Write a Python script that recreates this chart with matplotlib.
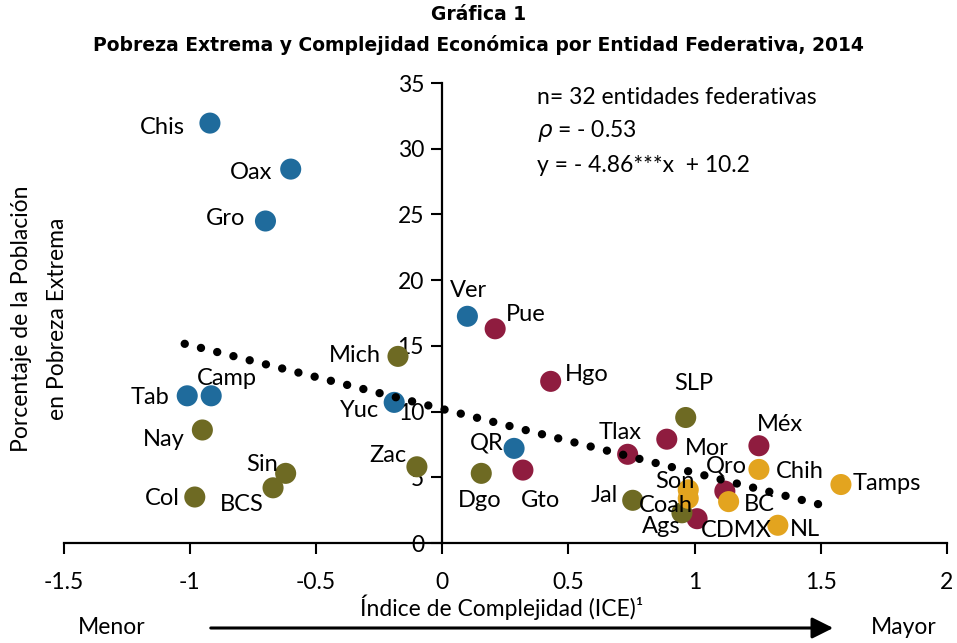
import matplotlib.pyplot as plt
import numpy as np

# Datos por entidad federativa
estados = ['Chis', 'Oax', 'Gro', 'Ver', 'Tab', 'Camp', 'Yuc', 'QR',
           'Pue', 'Hgo', 'Gto', 'Tlax', 'Mor', 'Méx', 'Qro', 'CDMX',
           'Mich', 'Nay', 'Sin', 'BCS', 'Col', 'Zac', 'Dgo', 'SLP', 'Jal', 'Ags',
           'Son', 'Coah', 'BC', 'Chih', 'Tamps', 'NL']
ice = [-0.92, -0.60, -0.70, 0.10, -1.01, -0.915, -0.19, 0.285,
       0.21, 0.43, 0.32, 0.735, 0.89, 1.255, 1.12, 1.01,
       -0.175, -0.95, -0.62, -0.67, -0.98, -0.10, 0.155, 0.965, 0.755, 0.95,
       0.975, 0.975, 1.135, 1.255, 1.58, 1.33]
pobreza = [31.95, 28.45, 24.5, 17.25, 11.2, 11.2, 10.7, 7.2,
           16.3, 12.3, 5.55, 6.75, 7.9, 7.4, 3.95, 1.85,
           14.2, 8.6, 5.3, 4.2, 3.5, 5.8, 5.3, 9.55, 3.25, 2.3,
           4.05, 3.4, 3.15, 5.6, 4.45, 1.35]
grupo = ['sur'] * 8 + ['centro'] * 8 + ['occ'] * 10 + ['norte'] * 6

colores = {'sur': '#1f6b9c', 'centro': '#8f1c3f', 'occ': '#6e6a23', 'norte': '#e3a41f'}

# desplazamiento de etiquetas (pixeles) y alineacion
etiquetas = {
    'Chis': (-25, -4, 'right'), 'Oax': (-18, -3, 'right'), 'Gro': (-20, 3, 'right'),
    'Ver': (1, 26, 'center'), 'Pue': (11, 14, 'left'), 'Hgo': (14, 7, 'left'),
    'Mich': (-17, 1, 'right'), 'Tab': (-18, -2, 'right'), 'Camp': (-14, 17, 'left'),
    'Yuc': (-15, -8, 'right'), 'Nay': (-18, -10, 'right'), 'Sin': (-8, 9, 'right'),
    'BCS': (-9, -17, 'right'), 'Col': (-15, -1, 'right'), 'Zac': (-10, 11, 'right'),
    'QR': (-10, 5, 'right'), 'Dgo': (-2, -27, 'center'), 'Gto': (18, -30, 'center'),
    'SLP': (8, 34, 'center'), 'Tlax': (-8, 22, 'center'), 'Mor': (18, -9, 'left'),
    'Méx': (-2, 21, 'left'), 'Qro': (-19, 25, 'left'), 'Chih': (17, -2, 'left'),
    'Tamps': (12, 1, 'left'), 'Son': (6, 8, 'right'), 'Coah': (-49, -7, 'left'),
    'Jal': (-15, 5, 'right'), 'Ags': (-1, -14, 'right'), 'BC': (15, -3, 'left'),
    'CDMX': (4, -12, 'left'), 'NL': (12, -4, 'left'),
}

pendiente = -4.86
intercepto = 10.2
x_tendencia = [-1.02, 1.52]

plt.rcParams['font.family'] = ['Lato', 'DejaVu Sans']

fig = plt.figure(figsize=(9.57, 6.43), dpi=100)
ax = fig.add_axes([0.0664, 0.1555, 0.9231, 0.7154])

for e, x, y, g in zip(estados, ice, pobreza, grupo):
    ax.scatter(x, y, s=230, color=colores[g], edgecolors='none', zorder=3)
    dx, dy, ha = etiquetas[e]
    ax.annotate(e, (x, y), xytext=(dx, dy), textcoords='offset pixels',
                ha=ha, va='center', fontsize=17, zorder=5)

xt = np.array(x_tendencia)
ax.plot(xt, pendiente * xt + intercepto, color='black', lw=6,
        linestyle=(0, (0.01, 2.0)), dash_capstyle='round', zorder=4)

ax.set_xlim(-1.5, 2)
ax.set_ylim(0, 35)
ax.spines['left'].set_position(('data', 0))
ax.spines['top'].set_visible(False)
ax.spines['right'].set_visible(False)
ax.spines['left'].set_linewidth(1.6)
ax.spines['bottom'].set_linewidth(1.6)
ax.set_xticks([-1.5, -1, -0.5, 0, 0.5, 1, 1.5, 2])
ax.set_xticklabels(['-1.5', '-1', '-0.5', '0', '0.5', '1', '1.5', '2'])
ax.set_yticks(range(0, 36, 5))
ax.tick_params(axis='both', labelsize=16.5, width=1.5, length=8, direction='out')
ax.tick_params(axis='x', pad=13)
ax.tick_params(axis='y', pad=5)

fig.text(0.5, 1 - 14 / 643, 'Gráfica 1', ha='center', va='center',
         fontsize=13.5, fontweight='bold', family='DejaVu Sans')
fig.text(0.5, 1 - 45 / 643, 'Pobreza Extrema y Complejidad Económica por Entidad Federativa, 2014',
         ha='center', va='center', fontsize=13.5, fontweight='bold', family='DejaVu Sans')

ax.text(537 / 957, 1 - 98 / 643, 'n= 32 entidades federativas', transform=fig.transFigure,
        fontsize=16.5, va='center')
ax.text(537 / 957, 1 - 131 / 643, r'$\rho$ = - 0.53', transform=fig.transFigure,
        fontsize=16.5, va='center')
ax.text(537 / 957, 1 - 165 / 643, 'y = - 4.86***x  + 10.2', transform=fig.transFigure,
        fontsize=16.5, va='center')

fig.text(22 / 957, 1 - 319 / 643, 'Porcentaje de la Población', rotation=90,
         ha='center', va='center', fontsize=16.5)
fig.text(58 / 957, 1 - 319 / 643, 'en Pobreza Extrema', rotation=90,
         ha='center', va='center', fontsize=16.5)

fig.text(502 / 957, 1 - 607 / 643, 'Índice de Complejidad (ICE)¹', ha='center', va='center',
         fontsize=16.5)
fig.text(112 / 957, 1 - 628 / 643, 'Menor', ha='center', va='center', fontsize=16.5)
fig.text(904 / 957, 1 - 628 / 643, 'Mayor', ha='center', va='center', fontsize=16.5)
ax.annotate('', xy=(836, 15), xytext=(208, 15), xycoords='figure pixels',
            arrowprops=dict(arrowstyle='-|>', lw=2.2, color='black', mutation_scale=32))

fig.savefig('out.png', dpi=100)
